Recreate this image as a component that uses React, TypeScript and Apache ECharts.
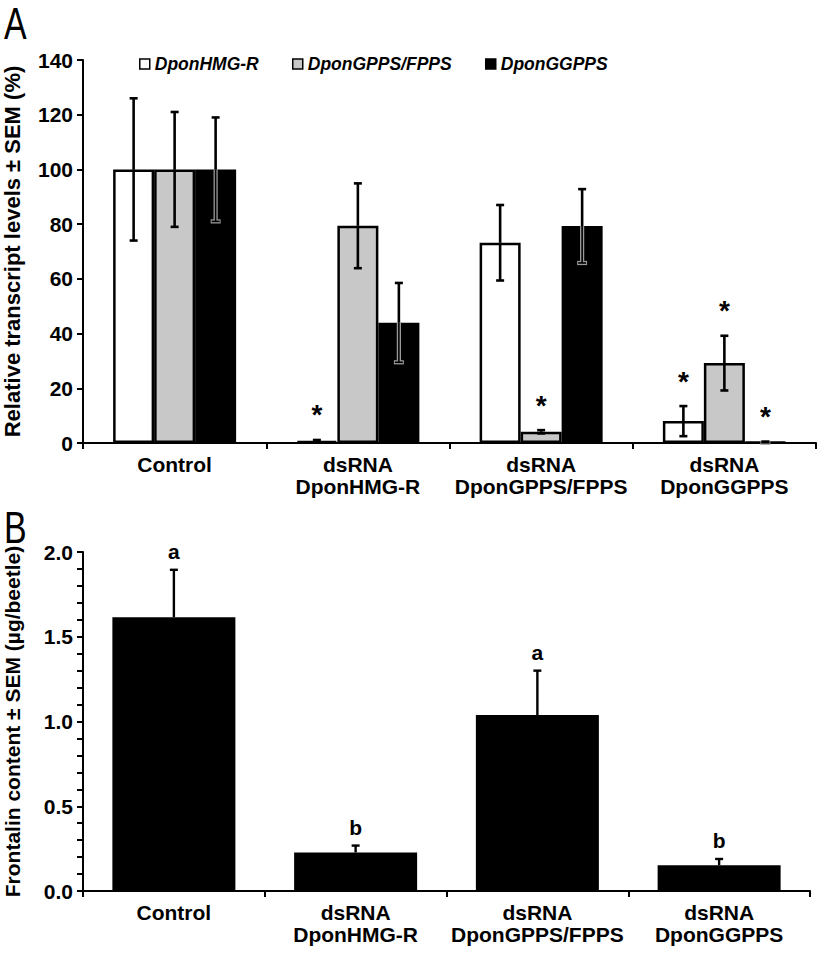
import React, { useEffect, useRef } from "react";
import * as echarts from "echarts";

const FONT = '"Liberation Sans", Arial, Helvetica, sans-serif';

// Panel A data
const categories = ["Control", "dsRNA\nDponHMG-R", "dsRNA\nDponGPPS/FPPS", "dsRNA\nDponGGPPS"];
const seriesNames = ["DponHMG-R", "DponGPPS/FPPS", "DponGGPPS"];
const hmgrValues = [100, 0.7, 73.2, 8.0];
const hmgrSem = [26, 0.4, 13.8, 5.5];
const gppsValues = [100, 79.4, 4.1, 29.2];
const gppsSem = [21, 15.5, 0.6, 10];
const ggppsValues = [100, 44, 79.3, 0.3];
const ggppsSem = [19, 14.5, 13.5, 0.2];
const hmgrStars = [0, 1, 0, 1];
const gppsStars = [0, 0, 1, 1];
const ggppsStars = [0, 0, 0, 1];

// Panel B data
const frontalinValues = [1.615, 0.227, 1.038, 0.152];
const frontalinSem = [0.28, 0.041, 0.262, 0.037];
const frontalinLetters = ["a", "b", "a", "b"];

const BAR_W = 41;
const CAP = 4;

function errSeriesA(idx: number, vals: number[], sems: number[], stars: number[], dark: boolean) {
  return {
    type: "custom",
    xAxisIndex: 0,
    yAxisIndex: 0,
    z: 10,
    clip: false,
    silent: true,
    data: vals.map((v, i) => [i, v, sems[i], stars[i]]),
    encode: { x: 0, y: 1 },
    renderItem: (params: any, api: any) => {
      const ci = api.value(0);
      const v = api.value(1);
      const s = api.value(2);
      const st = api.value(3);
      const c = api.coord([ci, v]);
      const x = c[0] + (idx - 1) * BAR_W;
      const yv = c[1];
      const yt = api.coord([ci, v + s])[1];
      const yb = api.coord([ci, Math.max(0, v - s)])[1];
      const blk = { stroke: "#000", lineWidth: 2.6 };
      const children: any[] = [];
      if (dark) {
        const out = { stroke: "#9a9a9a", lineWidth: 4.2 };
        children.push({ type: "line", shape: { x1: x, y1: yv, x2: x, y2: yb }, style: out });
        children.push({ type: "line", shape: { x1: x - CAP - 1, y1: yb, x2: x + CAP + 1, y2: yb }, style: out });
        children.push({ type: "line", shape: { x1: x, y1: yv, x2: x, y2: yb }, style: { stroke: "#000", lineWidth: 1.6 } });
        children.push({ type: "line", shape: { x1: x - CAP, y1: yb, x2: x + CAP, y2: yb }, style: { stroke: "#000", lineWidth: 1.6 } });
      } else {
        children.push({ type: "line", shape: { x1: x, y1: yv, x2: x, y2: yb }, style: blk });
        children.push({ type: "line", shape: { x1: x - CAP, y1: yb, x2: x + CAP, y2: yb }, style: blk });
      }
      children.push({ type: "line", shape: { x1: x, y1: yt, x2: x, y2: yv }, style: blk });
      children.push({ type: "line", shape: { x1: x - CAP, y1: yt, x2: x + CAP, y2: yt }, style: blk });
      if (st) {
        children.push({
          type: "text",
          x,
          y: yt - 25,
          style: {
            text: "*",
            fontSize: 28,
            fontWeight: "bold",
            fontFamily: FONT,
            fill: "#000",
            align: "center",
            verticalAlign: "middle",
          },
        });
      }
      return { type: "group", children };
    },
  };
}

function errSeriesB() {
  return {
    type: "custom",
    xAxisIndex: 1,
    yAxisIndex: 1,
    z: 10,
    clip: false,
    silent: true,
    data: frontalinValues.map((v, i) => [i, v, frontalinSem[i]]),
    encode: { x: 0, y: 1 },
    renderItem: (params: any, api: any) => {
      const ci = api.value(0);
      const v = api.value(1);
      const s = api.value(2);
      const c = api.coord([ci, v]);
      const x = c[0];
      const yt = api.coord([ci, v + s])[1];
      const blk = { stroke: "#000", lineWidth: 2.4 };
      return {
        type: "group",
        children: [
          { type: "line", shape: { x1: x, y1: yt, x2: x, y2: c[1] }, style: blk },
          { type: "line", shape: { x1: x - CAP, y1: yt, x2: x + CAP, y2: yt }, style: blk },
          {
            type: "text",
            x,
            y: yt - 18,
            style: {
              text: frontalinLetters[params.dataIndex],
              fontSize: 21,
              fontWeight: "bold",
              fontFamily: FONT,
              fill: "#000",
              align: "center",
              verticalAlign: "middle",
            },
          },
        ],
      };
    },
  };
}

export default function App() {
  const ref = useRef<HTMLDivElement>(null);
  useEffect(() => {
    if (!ref.current) return;
    const chart = echarts.init(ref.current, undefined, { renderer: "svg" });
    const axisLine = { show: true, lineStyle: { color: "#000", width: 2 } };
    const tickStyle = { color: "#000", width: 2 };
    const labelStyle = { color: "#000", fontWeight: "bold" as const, fontFamily: FONT };
    const barColors = ["#ffffff", "#c8c8c8", "#000000"];
    const valsA = [hmgrValues, gppsValues, ggppsValues];
    const legendLefts = [134, 287, 480];
    chart.setOption({
      animation: false,
      backgroundColor: "#fff",
      textStyle: { fontFamily: FONT },
      grid: [
        { left: 83, right: 4, top: 60, height: 383, containLabel: false, outerBoundsMode: "none" },
        { left: 83, right: 10, top: 552, height: 339, containLabel: false, outerBoundsMode: "none" },
      ],
      legend: seriesNames.map((n, i) => ({
        top: 50,
        left: legendLefts[i],
        itemWidth: 10,
        itemHeight: 10,
        icon: "rect",
        data: [{ name: n, itemStyle: { color: barColors[i], borderColor: "#000", borderWidth: 1.5 } }],
        textStyle: { fontSize: 17.5, fontWeight: "bold", fontStyle: "italic", fontFamily: FONT, color: "#000" },
      })),
      xAxis: [0, 1].map((g) => ({
        type: "category",
        gridIndex: g,
        data: categories,
        axisLine,
        axisTick: { show: true, length: 6, interval: 0, lineStyle: tickStyle },
        axisLabel: { ...labelStyle, fontSize: 21, margin: 10, lineHeight: 22, interval: 0 },
      })),
      yAxis: [
        {
          type: "value",
          gridIndex: 0,
          min: 0,
          max: 140,
          interval: 20,
          splitLine: { show: false },
          axisLine,
          axisTick: { show: true, length: 6, lineStyle: tickStyle },
          axisLabel: { ...labelStyle, fontSize: 21, margin: 10 },
          name: "Relative transcript levels ± SEM (%)",
          nameLocation: "middle",
          nameGap: 60,
          nameTextStyle: { ...labelStyle, fontSize: 22 },
        },
        {
          type: "value",
          gridIndex: 1,
          min: 0,
          max: 2,
          interval: 0.5,
          splitLine: { show: false },
          axisLine,
          axisTick: { show: true, length: 6, lineStyle: tickStyle },
          minorTick: { show: true, splitNumber: 5, length: 6, lineStyle: tickStyle },
          axisLabel: { ...labelStyle, fontSize: 21, margin: 10, formatter: (v: number) => v.toFixed(1) },
          name: "Frontalin content ± SEM (µg/beetle)",
          nameLocation: "middle",
          nameGap: 60,
          nameTextStyle: { ...labelStyle, fontSize: 21 },
        },
      ],
      graphic: [
        {
          type: "text",
          x: 4,
          y: 23,
          scaleX: 0.85,
          scaleY: 1.12,
          style: { text: "A", fontSize: 40, fontFamily: FONT, fill: "#000", align: "left", verticalAlign: "middle" },
        },
        {
          type: "text",
          x: 4,
          y: 527,
          scaleX: 0.85,
          scaleY: 1.12,
          style: { text: "B", fontSize: 40, fontFamily: FONT, fill: "#000", align: "left", verticalAlign: "middle" },
        },
      ],
      series: [
        ...seriesNames.map((n, i) => ({
          name: n,
          type: "bar",
          xAxisIndex: 0,
          yAxisIndex: 0,
          barWidth: BAR_W,
          barGap: "0%",
          data: valsA[i],
          itemStyle: { color: barColors[i], borderColor: "#000", borderWidth: 2.5 },
          silent: true,
        })),
        errSeriesA(0, hmgrValues, hmgrSem, hmgrStars, false),
        errSeriesA(1, gppsValues, gppsSem, gppsStars, false),
        errSeriesA(2, ggppsValues, ggppsSem, ggppsStars, true),
        {
          name: "Frontalin",
          type: "bar",
          xAxisIndex: 1,
          yAxisIndex: 1,
          barWidth: 123,
          data: frontalinValues,
          itemStyle: { color: "#000" },
          silent: true,
        },
        errSeriesB(),
      ],
    });
    return () => chart.dispose();
  }, []);
  return (
    <div
      ref={ref}
      style={{ position: "absolute", left: 0, top: 0, width: 820, height: 956, background: "#fff" }}
    />
  );
}
